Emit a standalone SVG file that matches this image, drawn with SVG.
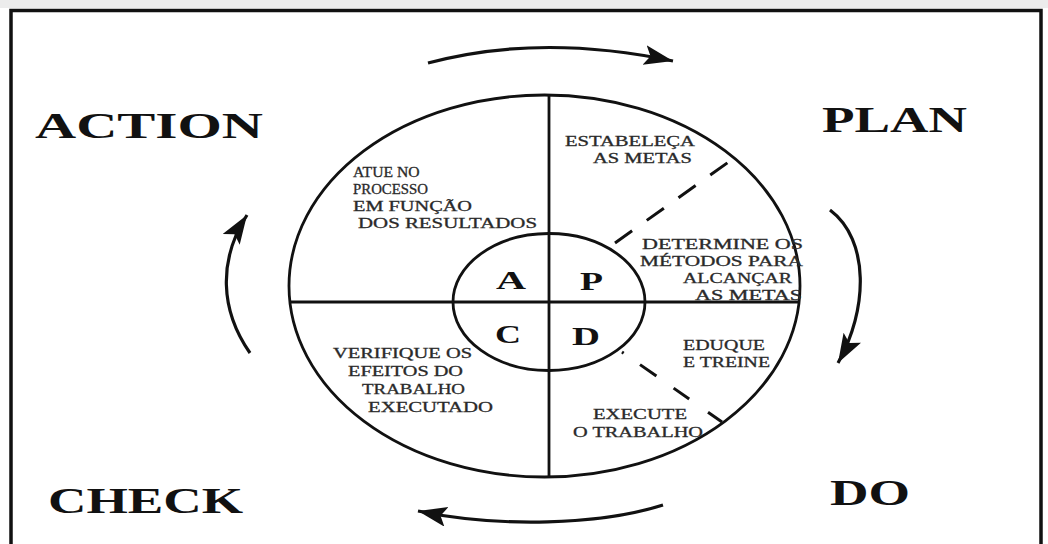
<svg xmlns="http://www.w3.org/2000/svg" width="1048" height="544" viewBox="0 0 1048 544">
  <style>
    .ln { fill: none; stroke: #111; stroke-width: 2.8; }
    .dash { fill: none; stroke: #111; stroke-width: 3; }
    .arr { fill: none; stroke: #111; stroke-width: 3.2; marker-end: url(#head); }
    .sm { font-family: "Liberation Serif", "Times New Roman", serif; font-size: 14px; fill: #2a2a2a; stroke: #2a2a2a; stroke-width: 0.3; }
    .big { font-family: "Liberation Serif", "Times New Roman", serif; font-size: 36px; font-weight: bold; fill: #111; }
    .let { font-family: "Liberation Serif", "Times New Roman", serif; font-size: 25px; font-weight: bold; fill: #111; }
  </style>
  <defs>
    <marker id="head" markerUnits="userSpaceOnUse" markerWidth="32" markerHeight="22" refX="29" refY="10" orient="auto" viewBox="0 0 32 22">
      <path d="M0,0 L29,10 L0,20 L6,10 Z" fill="#111"/>
    </marker>
  </defs>
  <rect x="0" y="0" width="1048" height="544" fill="#fff"/>
  <rect x="0" y="0" width="1048" height="8" fill="#ececec"/>
  <g id="frame">
    <path d="M11,544 L11,10.5 L1041,10.5 L1041,544" fill="none" stroke="#111" stroke-width="3.5"/>
  </g>
  <g id="wheel">
    <ellipse cx="544.5" cy="286" rx="255.5" ry="191" class="ln"/>
    <line x1="549" y1="95" x2="549" y2="476" class="ln"/>
    <line x1="290" y1="302" x2="800" y2="302" class="ln"/>
    <ellipse cx="549" cy="302" rx="96" ry="68.5" class="ln"/>
    <line x1="615" y1="243" x2="730" y2="161" class="dash" stroke-dasharray="21 18"/>
    <line x1="622" y1="352" x2="722" y2="422" class="dash" stroke-dasharray="2 20 20 21 19 23 20"/>
  </g>
  <g id="node-A">
    <text class="let" x="496" y="289" textLength="30" lengthAdjust="spacingAndGlyphs">A</text>
    <text class="sm" transform="translate(353,177) scale(1.12,1)">ATUE NO</text>
    <text class="sm" transform="translate(353,194) scale(1.06,1)">PROCESSO</text>
    <text class="sm" x="353" y="211" textLength="119" lengthAdjust="spacingAndGlyphs">EM FUNÇÃO</text>
    <text class="sm" x="358" y="228" textLength="179" lengthAdjust="spacingAndGlyphs">DOS RESULTADOS</text>
  </g>
  <g id="node-P">
    <text class="let" x="580" y="290" textLength="23" lengthAdjust="spacingAndGlyphs">P</text>
    <text class="sm" x="565" y="146" textLength="130" lengthAdjust="spacingAndGlyphs">ESTABELEÇA</text>
    <text class="sm" x="593" y="163" textLength="99" lengthAdjust="spacingAndGlyphs">AS METAS</text>
    <text class="sm" x="642" y="249" textLength="161" lengthAdjust="spacingAndGlyphs">DETERMINE OS</text>
    <text class="sm" x="640" y="266" textLength="163" lengthAdjust="spacingAndGlyphs">MÉTODOS PARA</text>
    <text class="sm" x="683" y="283" textLength="109" lengthAdjust="spacingAndGlyphs">ALCANÇAR</text>
    <text class="sm" x="695" y="300" textLength="107" lengthAdjust="spacingAndGlyphs">AS METAS</text>
  </g>
  <g id="node-C">
    <text class="let" x="495" y="343" textLength="26" lengthAdjust="spacingAndGlyphs">C</text>
    <text class="sm" x="333" y="358" textLength="139" lengthAdjust="spacingAndGlyphs">VERIFIQUE OS</text>
    <text class="sm" x="348" y="376" textLength="115" lengthAdjust="spacingAndGlyphs">EFEITOS DO</text>
    <text class="sm" x="362" y="394" textLength="103" lengthAdjust="spacingAndGlyphs">TRABALHO</text>
    <text class="sm" x="368" y="412" textLength="125" lengthAdjust="spacingAndGlyphs">EXECUTADO</text>
  </g>
  <g id="node-D">
    <text class="let" x="572" y="345" textLength="28" lengthAdjust="spacingAndGlyphs">D</text>
    <text class="sm" x="683" y="350" textLength="82" lengthAdjust="spacingAndGlyphs">EDUQUE</text>
    <text class="sm" x="683" y="367" textLength="87" lengthAdjust="spacingAndGlyphs">E TREINE</text>
    <text class="sm" x="593" y="419" textLength="94" lengthAdjust="spacingAndGlyphs">EXECUTE</text>
    <text class="sm" x="573" y="437" textLength="130" lengthAdjust="spacingAndGlyphs">O TRABALHO</text>
  </g>
  <g id="label-action"><text class="big" x="35" y="138" textLength="228" lengthAdjust="spacingAndGlyphs">ACTION</text></g>
  <g id="label-plan"><text class="big" x="822" y="132" textLength="145" lengthAdjust="spacingAndGlyphs">PLAN</text></g>
  <g id="label-check"><text class="big" x="48" y="513" textLength="195" lengthAdjust="spacingAndGlyphs">CHECK</text></g>
  <g id="label-do"><text class="big" x="830" y="505" textLength="80" lengthAdjust="spacingAndGlyphs">DO</text></g>
  <g id="connectors">
    <path class="arr" d="M428,63 Q540,33 673,61"/>
    <path class="arr" d="M830,210 C870,240 868,310 838,363"/>
    <path class="arr" d="M663,505 C600,525 500,528 418,511"/>
    <path class="arr" d="M250,353 C220,310 218,260 247,215"/>
  </g>
</svg>
